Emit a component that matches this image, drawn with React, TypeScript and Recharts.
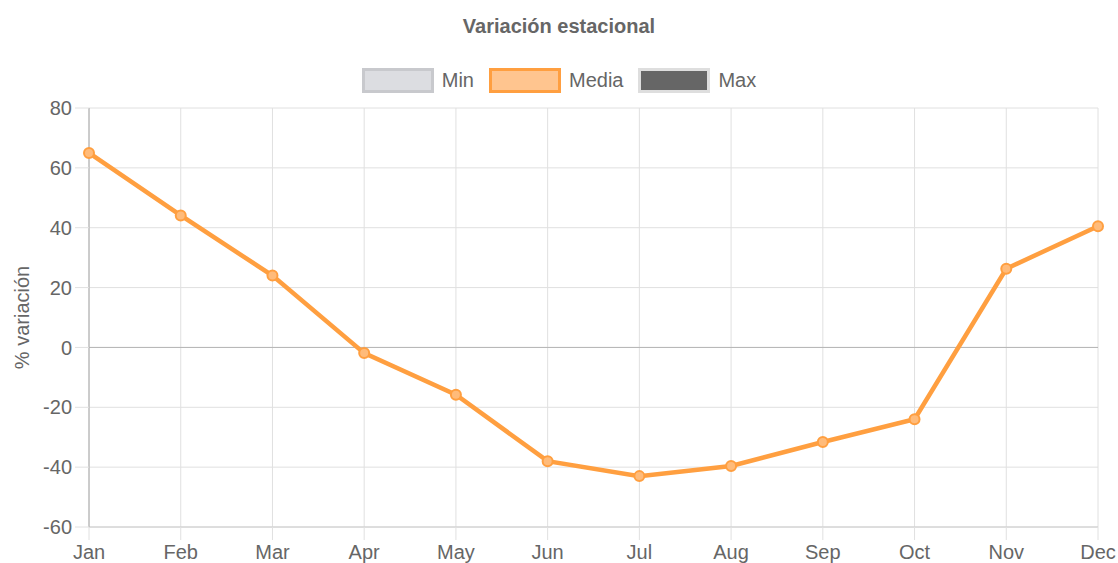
import React from "react";
import {
  LineChart,
  Line,
  XAxis,
  YAxis,
  CartesianGrid,
  ReferenceLine,
  Legend,
} from "recharts";

const months = ["Jan", "Feb", "Mar", "Apr", "May", "Jun", "Jul", "Aug", "Sep", "Oct", "Nov", "Dec"];
const mediaValues = [65, 44.1, 24, -1.9, -15.8, -38, -43, -39.6, -31.6, -24, 26.3, 40.5];
const yTicks = [-60, -40, -20, 0, 20, 40, 60, 80];

const legendItems = [
  { name: "Min", fill: "#dcdde1", border: "#c8c9cd" },
  { name: "Media", fill: "#ffc58f", border: "#ff9f40" },
  { name: "Max", fill: "#666666", border: "#dedede" },
];

const FONT = '"Liberation Sans", Arial, Helvetica, sans-serif';
const TEXT = "#666";
const GRID = "#e0e0e0";

const data = months.map((m, i) => ({ month: m, media: mediaValues[i] }));

// legend row drawn by hand, Min/Max have no line but still show in the legend
function LegendRow() {
  return (
    <div style={{ display: "flex", justifyContent: "center", alignItems: "center", fontFamily: FONT }}>
      {legendItems.map((it, i) => (
        <div
          key={it.name}
          style={{ display: "flex", alignItems: "center", marginLeft: i === 0 ? 0 : 15 }}
        >
          <span
            style={{
              display: "inline-block",
              width: 66,
              height: 19,
              background: it.fill,
              border: `3px solid ${it.border}`,
              marginRight: 8,
            }}
          />
          <span style={{ fontSize: 20, color: TEXT }}>{it.name}</span>
        </div>
      ))}
    </div>
  );
}

export default function App() {
  return (
    <div style={{ position: "absolute", left: 0, top: 0, width: 1118, height: 563, background: "#fff", fontFamily: FONT }}>
      <div
        style={{
          position: "absolute",
          top: 15,
          left: 0,
          width: 1118,
          textAlign: "center",
          fontSize: 20,
          fontWeight: "bold",
          color: TEXT,
        }}
      >
        Variación estacional
      </div>
      <LineChart
        width={1118}
        height={563}
        data={data}
        margin={{ top: 108, right: 20, bottom: 0, left: 0 }}
      >
        <CartesianGrid stroke={GRID} strokeWidth={1} />
        <ReferenceLine y={0} stroke="#b5b5b5" strokeWidth={1} />
        <XAxis
          dataKey="month"
          height={36}
          tickSize={13}
          tickMargin={5}
          interval={0}
          tick={{ fill: TEXT, fontSize: 20, fontFamily: FONT }}
          tickLine={{ stroke: GRID }}
          axisLine={{ stroke: "#cccccc" }}
        />
        <YAxis
          width={89}
          domain={[-60, 80]}
          ticks={yTicks}
          tickSize={14}
          tickMargin={3}
          tick={{ fill: TEXT, fontSize: 20, fontFamily: FONT }}
          tickLine={{ stroke: GRID }}
          axisLine={{ stroke: "#b0b0b0" }}
          label={{
            value: "% variación",
            angle: -90,
            position: "insideLeft",
            offset: 22,
            style: { textAnchor: "middle", fill: TEXT, fontSize: 20, fontFamily: FONT },
          }}
        />
        <Legend
          verticalAlign="middle"
          align="center"
          content={() => <LegendRow />}
          wrapperStyle={{ top: 68, left: 0, width: 1118 }}
        />
        <Line
          dataKey="media"
          name="Media"
          stroke="#ff9f40"
          strokeWidth={4.5}
          dot={{ r: 5, fill: "#ffbb7a", stroke: "#ff9f40", strokeWidth: 2 }}
          isAnimationActive={false}
        />
      </LineChart>
    </div>
  );
}
